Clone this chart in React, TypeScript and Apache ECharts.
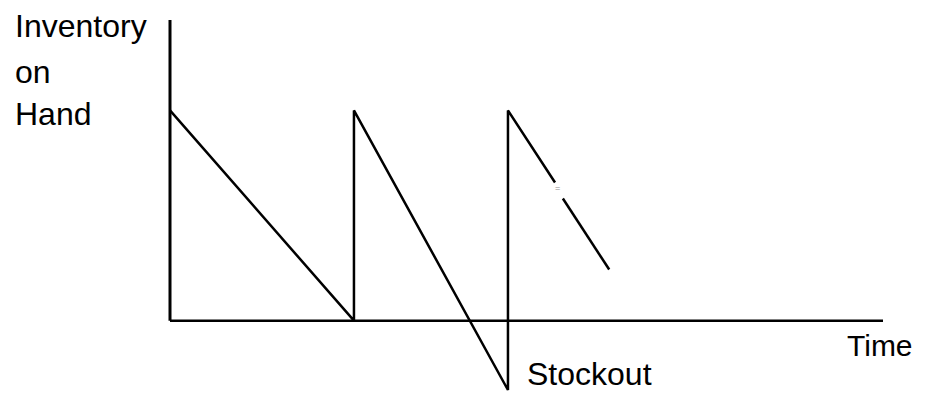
import React, { useEffect, useRef } from "react";
import * as echarts from "echarts";

// Inventory level (units, peak = 100) over time (arbitrary units)
const sawtoothTimes = [0, 25.8, 25.8, 47.4, 47.4, 54.0];
const sawtoothLevels = [100, 0, 100, -33, 100, 65.7];
const tailTimes = [55.1, 61.6];
const tailLevels = [58.1, 24.3];
const axisXEnd = 100;
const axisYTop = 143;
const yMin = -33;

const yLabelLines = ["Inventory", "on", "Hand"];
const xLabel = "Time";
const stockoutLabel = "Stockout";
const breakMark = "=";

const zip = (xs: number[], ys: number[]) => xs.map((x, i) => [x, ys[i]]);

export default function App() {
  const ref = useRef<HTMLDivElement>(null);
  useEffect(() => {
    if (!ref.current) return;
    const chart = echarts.init(ref.current, undefined, { renderer: "svg" });
    const line = { color: "#000", width: 2.5 };
    const font = "'Liberation Sans', Arial, sans-serif";
    const lineSeries = (data: number[][], width = 2.5) => ({
      type: "line",
      data,
      symbol: "none",
      lineStyle: { ...line, width },
      silent: true,
      clip: false,
    });
    chart.setOption({
      animation: false,
      backgroundColor: "#fff",
      grid: { left: 170, right: 43, top: 20, bottom: 3 },
      xAxis: { type: "value", min: 0, max: axisXEnd, show: false },
      yAxis: { type: "value", min: yMin, max: axisYTop, show: false },
      series: [
        lineSeries([[0, 0], [0, axisYTop]], 3),
        lineSeries([[0, 0], [axisXEnd, 0]]),
        lineSeries(zip(sawtoothTimes, sawtoothLevels)),
        lineSeries(zip(tailTimes, tailLevels)),
      ],
      graphic: [
        ...yLabelLines.map((t, i) => ({
          type: "text",
          left: 15,
          top: [10, 56, 98][i],
          style: { text: t, fontSize: 32, lineHeight: 32, fontFamily: font, fill: "#000" },
        })),
        {
          type: "text",
          left: 847,
          top: 330,
          style: { text: xLabel, fontSize: 30, lineHeight: 30, fontFamily: font, fill: "#000" },
        },
        {
          type: "text",
          left: 527,
          top: 358,
          style: { text: stockoutLabel, fontSize: 32, lineHeight: 32, fontFamily: font, fill: "#000" },
        },
        {
          type: "text",
          left: 555,
          top: 183,
          style: { text: breakMark, fontSize: 9, fontFamily: font, fill: "#888" },
        },
      ],
    });
    return () => chart.dispose();
  }, []);
  return (
    <div
      ref={ref}
      style={{ position: "absolute", left: 0, top: 0, width: 926, height: 393 }}
    />
  );
}
